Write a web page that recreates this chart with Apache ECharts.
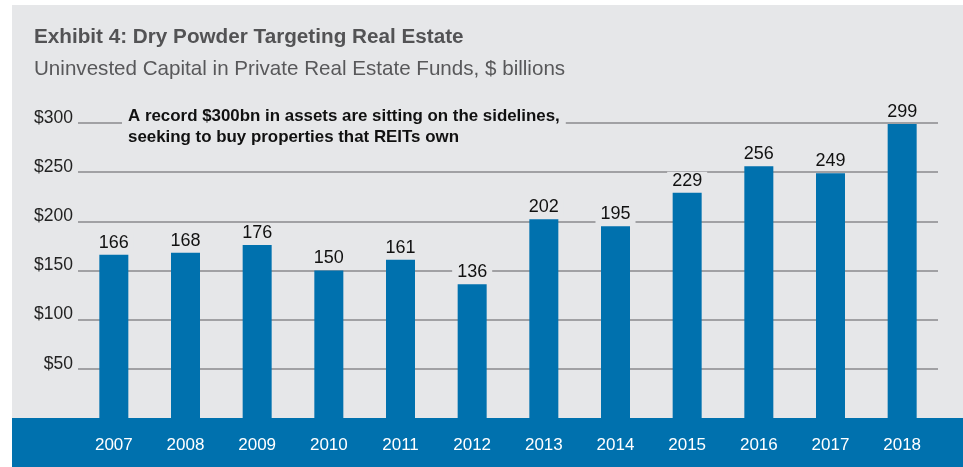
<!DOCTYPE html>
<html><head><meta charset="utf-8">
<script src="https://cdn.jsdelivr.net/npm/echarts@6/dist/echarts.min.js"></script>
<style>html,body{margin:0;padding:0;background:#fff}#c{width:963px;height:467px}</style>
</head><body><div id="c"></div>
<script>
const years = ['2007','2008','2009','2010','2011','2012','2013','2014','2015','2016','2017','2018'];
const dryPowder = [166,168,176,150,161,136,202,195,229,256,249,299];
const yTicks = [0,50,100,150,200,250,300];
const titleText = 'Exhibit 4: Dry Powder Targeting Real Estate';
const subtitleText = 'Uninvested Capital in Private Real Estate Funds, $ billions';
const noteLines = ['A record $300bn in assets are sitting on the sidelines,', 'seeking to buy properties that REITs own'];

const FONT = '"Liberation Sans Narrow", "Arial Narrow", "Liberation Sans", sans-serif';
const PANEL = '#e6e7e9';
const BLUE = '#0071ae';

const chart = echarts.init(document.getElementById('c'));
chart.setOption({
  backgroundColor: '#ffffff',
  animation: false,
  title: [
    { text: titleText, left: 34, top: 27, padding: 0,
      textStyle: { fontFamily: FONT, fontSize: 20.7, fontWeight: 'bold', color: '#535355' } },
    { text: subtitleText, left: 34, top: 59, padding: 0,
      textStyle: { fontFamily: FONT, fontSize: 20.6, fontWeight: 'normal', color: '#58585a' } }
  ],
  graphic: [
    { type: 'rect', z: -10, silent: true, shape: { x: 12, y: 5, width: 951, height: 462 }, style: { fill: PANEL } },
    { type: 'rect', z: -9, silent: true, shape: { x: 12, y: 418, width: 951, height: 49 }, style: { fill: BLUE } },
    { type: 'text', z: 100, left: 122, top: 106, silent: true,
      style: { text: noteLines.join('\n'), font: 'bold 16.9px ' + FONT, fill: '#111',
               lineHeight: 21, backgroundColor: PANEL, padding: [0, 6, 0, 6] } }
  ],
  grid: { left: 78, right: 25, top: 123, bottom: 49 },
  xAxis: {
    type: 'category', data: years,
    axisLine: { show: false }, axisTick: { show: false },
    axisLabel: { color: '#ffffff', fontFamily: FONT, fontSize: 17, margin: 19 }
  },
  yAxis: {
    type: 'value', min: yTicks[0], max: yTicks[yTicks.length - 1], interval: 50,
    axisLine: { show: false }, axisTick: { show: false },
    splitLine: { showMinLine: false, lineStyle: { color: '#8a8a8c', width: 1.5 } },
    axisLabel: { color: '#222', fontFamily: FONT, fontSize: 17.5, margin: 5,
      verticalAlign: 'bottom', padding: [0, 0, -4, 0],
      formatter: v => v === 0 ? '' : '$' + v }
  },
  series: [{
    type: 'bar', data: dryPowder, barWidth: 29,
    itemStyle: { color: BLUE },
    label: { show: true, position: 'top', distance: 3, color: '#111', fontFamily: FONT, fontSize: 18,
      backgroundColor: PANEL, padding: [0, 5, 0, 5] }
  }]
});
</script></body></html>
